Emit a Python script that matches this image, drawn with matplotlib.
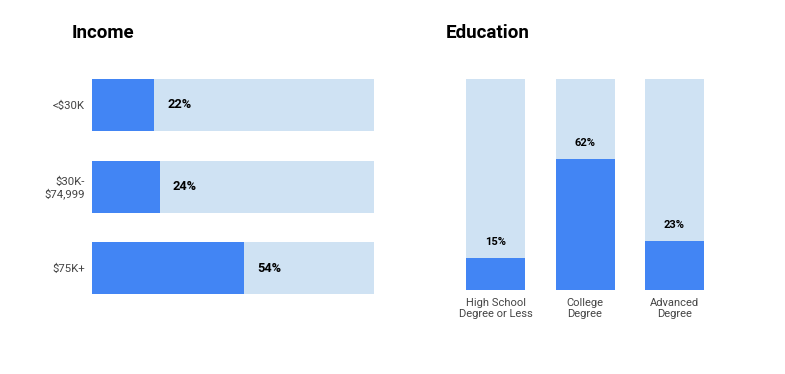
import matplotlib
matplotlib.use("Agg")
import matplotlib.pyplot as plt
from matplotlib.transforms import offset_copy

plt.rcParams['font.family'] = ['Roboto', 'DejaVu Sans']

income_cats = ["<$30K", "$30K-\n$74,999", "$75K+"]
income_vals = [22, 24, 54]
edu_cats = ["High School\nDegree or Less", "College\nDegree", "Advanced\nDegree"]
edu_vals = [15, 62, 23]

DARK = "#4285f4"
LIGHT = "#cfe2f3"
W, H = 785, 374

fig = plt.figure(figsize=(7.85, 3.74), dpi=100)

def ax_px(x0, y0, x1, y1):
    return fig.add_axes([x0 / W, 1 - y1 / H, (x1 - x0) / W, (y1 - y0) / H])

# Income
ax1 = ax_px(92, 79, 374, 294)
bh = 52 / 81.5
ys = list(range(len(income_cats)))
ax1.barh(ys, [100] * len(ys), height=bh, color=LIGHT, left=0)
ax1.barh(ys, income_vals, height=bh, color=DARK)
ax1.set_xlim(0, 100)
ax1.set_ylim(len(ys) - 1 + bh / 2, -bh / 2)
ax1.set_yticks(ys)
ax1.set_yticklabels(income_cats, fontsize=8.2, color="#444444",
                    multialignment='right', linespacing=1.1)
ax1.tick_params(axis='y', length=0, pad=5)
ax1.set_xticks([])
for s in ax1.spines.values():
    s.set_visible(False)
for y, v in zip(ys, income_vals):
    tr = offset_copy(ax1.transData, fig=fig, x=13, y=0, units='dots')
    ax1.text(v, y, f"{v}%", transform=tr, ha='left', va='center',
             fontsize=9.2, fontweight='bold', color='black')
fig.text(72 / W, 1 - 33 / H, "Income", fontsize=13.5, fontweight='bold',
         ha='left', va='center', color='black')

# Education
ax2 = ax_px(466, 79, 704, 290)
bw = 59 / 89.5
xs = list(range(len(edu_cats)))
ax2.bar(xs, [100] * len(xs), width=bw, color=LIGHT)
ax2.bar(xs, edu_vals, width=bw, color=DARK)
ax2.set_ylim(0, 100)
ax2.set_xlim(-bw / 2, len(xs) - 1 + bw / 2)
ax2.set_xticks(xs)
ax2.set_xticklabels(edu_cats, fontsize=8, color="#444444", linespacing=1.1)
ax2.tick_params(axis='x', length=0, pad=6)
ax2.set_yticks([])
for s in ax2.spines.values():
    s.set_visible(False)
for x, v in zip(xs, edu_vals):
    tr = offset_copy(ax2.transData, fig=fig, x=0, y=16, units='dots')
    ax2.text(x, v, f"{v}%", transform=tr, ha='center', va='center',
             fontsize=8, fontweight='bold', color='black')
fig.text(446 / W, 1 - 33 / H, "Education", fontsize=13.5, fontweight='bold',
         ha='left', va='center', color='black')

fig.savefig("out.png", dpi=100)
